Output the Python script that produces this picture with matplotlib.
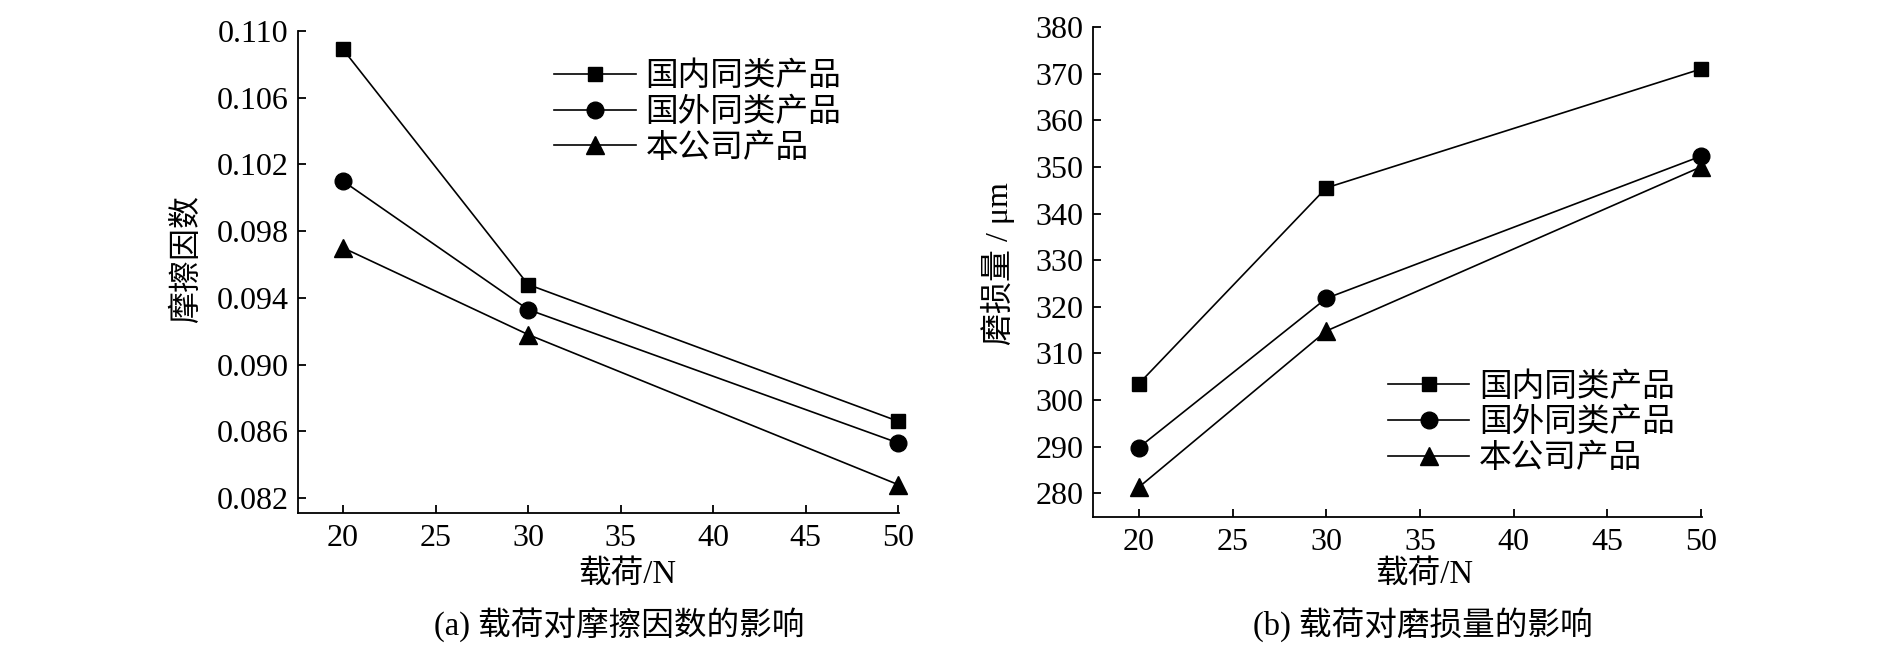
import matplotlib
matplotlib.use("Agg")
import matplotlib.pyplot as plt

plt.rcParams['font.family'] = ['Liberation Serif', 'Noto Sans CJK SC']

loads = [20, 30, 50]
series_names = ["国内同类产品", "国外同类产品", "本公司产品"]
markers = ["s", "o", "^"]
msizes = [9.5, 12, 13]

friction_domestic = [0.1089, 0.0948, 0.0866]
friction_foreign = [0.1010, 0.0933, 0.0853]
friction_ours = [0.0970, 0.0918, 0.0828]

wear_domestic = [303.5, 345.5, 371.0]
wear_foreign = [289.8, 321.8, 352.3]
wear_ours = [281.3, 314.8, 350.0]

x_ticks = [20, 25, 30, 35, 40, 45, 50]
friction_ticks = [0.082, 0.086, 0.090, 0.094, 0.098, 0.102, 0.106, 0.110]
wear_ticks = [280, 290, 300, 310, 320, 330, 340, 350, 360, 370, 380]

fig = plt.figure(figsize=(18.9, 6.5), dpi=100)
ax1 = fig.add_axes([0.1577, 0.2108, 0.318, 0.7415])
ax2 = fig.add_axes([0.5783, 0.2046, 0.3222, 0.7538])


def style(ax):
    for s in ["top", "right"]:
        ax.spines[s].set_visible(False)
    for s in ["left", "bottom"]:
        ax.spines[s].set_linewidth(1.3)
    ax.tick_params(direction="in", length=6, width=1.3, labelsize=23)
    ax.tick_params(axis="x", pad=8)
    ax.tick_params(axis="y", pad=7)
    ax.set_xticks(x_ticks)


leg_kw = dict(loc="upper left", frameon=False, fontsize=23.5, handlelength=2.5,
              handletextpad=0.3, labelspacing=0.16, borderaxespad=0, borderpad=0)

# (a) friction coefficient
for vals, m, ms, name in zip([friction_domestic, friction_foreign, friction_ours], markers, msizes, series_names):
    ax1.plot(loads, vals, color="black", lw=1.2, marker=m, markersize=ms, label=name, clip_on=False)
style(ax1)
ax1.set_xlim(17.57, 50.05)
ax1.set_ylim(0.0811, 0.110)
ax1.set_yticks(friction_ticks)
ax1.set_yticklabels([f"{t:.3f}" for t in friction_ticks])
ax1.legend(bbox_to_anchor=(0.426, 0.936), **leg_kw)

# (b) wear
for vals, m, ms, name in zip([wear_domestic, wear_foreign, wear_ours], markers, msizes, series_names):
    ax2.plot(loads, vals, color="black", lw=1.2, marker=m, markersize=ms, label=name, clip_on=False)
style(ax2)
ax2.set_xlim(17.55, 50.05)
ax2.set_ylim(274.9, 380)
ax2.set_yticks(wear_ticks)
ax2.legend(bbox_to_anchor=(0.484, 0.296), **leg_kw)

# axis labels and captions
fig.text(0.0989, 0.6015, "摩擦因数", rotation=90, ha="center", va="center", fontsize=23)
fig.text(0.528, 0.595, "磨损量 / μm", rotation=90, ha="center", va="center", fontsize=23)
fig.text(0.3317, 0.1154, "载荷/N", ha="center", va="center", fontsize=23.5)
fig.text(0.7534, 0.1154, "载荷/N", ha="center", va="center", fontsize=23.5)
fig.text(0.3275, 0.0385, "(a) 载荷对摩擦因数的影响", ha="center", va="center", fontsize=23.5)
fig.text(0.7529, 0.0385, "(b) 载荷对磨损量的影响", ha="center", va="center", fontsize=23.5)

fig.savefig("out.png", dpi=100)
